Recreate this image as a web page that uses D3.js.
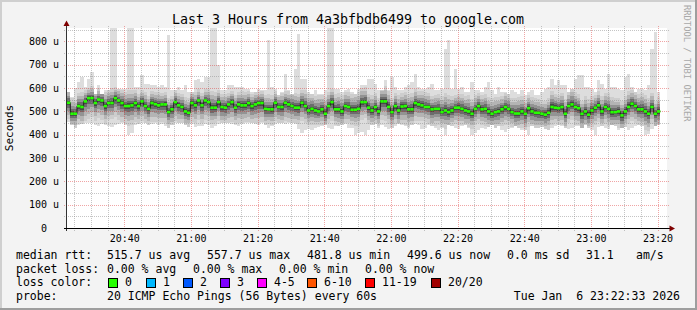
<!DOCTYPE html>
<html>
<head>
<meta charset="utf-8">
<script src="https://cdn.jsdelivr.net/npm/d3@7"></script>
<style>
body { margin: 0; background: #f3f3f3; }
text { font-family: "DejaVu Sans Mono", monospace; white-space: pre; }
</style>
</head>
<body>
<script>
var width = 697;
var height = 310;

// median rtt per minute, in microseconds
var median = [537, 490, 490, 523, 519, 543, 557, 557, 536, 551,
  547, 523, 536, 536, 557, 547, 536, 523, 523, 526,
  536, 523, 543, 523, 511, 536, 531, 526, 530, 530,
  497, 509, 540, 526, 519, 500, 494, 536, 526, 547,
  526, 547, 540, 516, 516, 540, 519, 516, 530, 540,
  516, 530, 526, 526, 536, 523, 530, 536, 536, 511,
  509, 509, 537, 519, 519, 537, 530, 523, 516, 516,
  537, 523, 504, 511, 504, 500, 509, 490, 523, 540,
  509, 509, 500, 523, 519, 507, 507, 511, 540, 540,
  516, 504, 519, 500, 543, 543, 519, 497, 523, 504,
  521, 523, 509, 509, 536, 530, 526, 519, 519, 509,
  511, 511, 497, 504, 497, 504, 516, 516, 511, 504,
  500, 490, 511, 523, 509, 511, 500, 490, 497, 500,
  509, 519, 511, 497, 491, 491, 500, 490, 514, 500,
  494, 494, 490, 486, 494, 519, 516, 514, 519, 490,
  523, 530, 519, 514, 490, 500, 486, 504, 516, 526,
  500, 519, 511, 497, 497, 500, 483, 500, 519, 533,
  523, 509, 509, 500, 490, 519, 490, 500];

// slowest ping per minute (top of the smoke)
var maxPing = [583, 561, 600, 626, 647, 604, 640, 669, 576, 611,
  576, 590, 590, 855, 855, 597, 597, 597, 855, 855,
  604, 604, 654, 619, 619, 611, 611, 604, 611, 604,
  826, 590, 590, 604, 590, 611, 583, 583, 633, 640,
  626, 647, 647, 855, 855, 697, 590, 590, 611, 611,
  604, 604, 604, 597, 597, 583, 583, 597, 590, 590,
  804, 604, 597, 569, 583, 661, 590, 576, 683, 833,
  640, 640, 583, 576, 590, 576, 576, 590, 855, 855,
  597, 597, 583, 590, 597, 583, 576, 597, 611, 611,
  640, 640, 619, 590, 590, 633, 590, 647, 604, 590,
  590, 604, 611, 626, 661, 604, 597, 597, 604, 619,
  590, 590, 597, 769, 804, 597, 683, 597, 604, 583,
  583, 626, 590, 590, 583, 604, 626, 590, 576, 604,
  583, 583, 576, 590, 583, 576, 590, 569, 583, 590,
  569, 569, 583, 597, 604, 640, 611, 633, 611, 611,
  583, 597, 640, 654, 654, 604, 604, 597, 583, 633,
  619, 597, 661, 604, 604, 597, 590, 647, 661, 604,
  583, 597, 597, 590, 611, 769, 840, 583];

// fastest ping per minute (bottom of the smoke)
var minPing = [455, 440, 430, 440, 445, 448, 452, 450, 440, 435,
  445, 442, 438, 432, 440, 445, 450, 440, 398, 405,
  440, 445, 450, 448, 442, 445, 450, 440, 445, 438,
  430, 440, 448, 452, 450, 440, 432, 445, 432, 438,
  438, 445, 442, 430, 436, 445, 450, 452, 448, 445,
  440, 436, 445, 450, 448, 452, 445, 440, 448, 440,
  430, 435, 445, 450, 448, 445, 450, 452, 445, 425,
  405, 420, 425, 422, 430, 433, 438, 440, 430, 425,
  438, 435, 440, 445, 430, 430, 400, 405, 410, 400,
  420, 440, 445, 430, 440, 432, 425, 430, 438, 445,
  440, 436, 430, 440, 445, 440, 425, 430, 440, 436,
  430, 420, 430, 400, 440, 435, 430, 425, 438, 440,
  430, 400, 405, 420, 428, 425, 432, 440, 430, 435,
  420, 410, 425, 430, 438, 430, 420, 420, 398, 436,
  428, 430, 432, 425, 420, 430, 435, 440, 436, 430,
  425, 430, 435, 438, 430, 440, 430, 420, 398, 432,
  438, 430, 425, 440, 436, 420, 428, 433, 420, 430,
  435, 440, 438, 400, 402, 425, 438, 440];

// spread of the middle pings above / below the median
var spreadUp = [30, 34, 30, 28, 32, 25, 22, 25, 28, 24,
  26, 30, 28, 32, 24, 26, 28, 30, 35, 32,
  28, 26, 24, 30, 28, 25, 26, 28, 24, 26,
  30, 28, 25, 26, 28, 30, 32, 26, 28, 25,
  26, 24, 28, 35, 34, 26, 28, 30, 25, 24,
  28, 26, 30, 28, 25, 26, 28, 24, 26, 30,
  32, 30, 26, 28, 30, 26, 28, 30, 32, 30,
  28, 34, 36, 32, 30, 34, 30, 36, 30, 28,
  32, 34, 36, 30, 32, 34, 35, 36, 30, 32,
  30, 32, 30, 28, 30, 32, 34, 30, 28, 32,
  28, 30, 32, 34, 30, 28, 30, 32, 30, 28,
  30, 32, 34, 38, 36, 30, 28, 30, 32, 30,
  34, 32, 30, 28, 30, 32, 30, 34, 32, 30,
  28, 30, 32, 30, 34, 36, 32, 30, 28, 30,
  32, 30, 28, 30, 32, 34, 30, 28, 30, 32,
  30, 34, 32, 30, 28, 32, 34, 30, 28, 30,
  32, 30, 34, 32, 30, 28, 30, 32, 34, 30,
  30, 32, 34, 36, 34, 30, 28, 30];
var spreadDown = [36, 30, 32, 38, 40, 42, 45, 40, 38, 40,
  42, 38, 36, 34, 40, 42, 40, 38, 44, 42,
  40, 38, 42, 36, 34, 40, 38, 36, 38, 40,
  34, 36, 40, 38, 36, 32, 30, 40, 38, 42,
  38, 42, 40, 36, 34, 40, 38, 36, 40, 42,
  36, 40, 38, 36, 40, 38, 40, 42, 40, 34,
  32, 34, 40, 36, 38, 40, 38, 36, 34, 36,
  40, 36, 32, 34, 32, 30, 34, 30, 36, 40,
  34, 36, 32, 36, 34, 32, 34, 36, 38, 34,
  36, 34, 38, 32, 40, 42, 36, 34, 38, 36,
  38, 40, 36, 34, 38, 36, 34, 32, 36, 38,
  36, 34, 32, 40, 36, 34, 36, 38, 34, 36,
  34, 32, 34, 36, 34, 38, 36, 32, 34, 36,
  36, 38, 34, 32, 36, 34, 36, 38, 40, 36,
  34, 36, 32, 34, 36, 38, 34, 36, 38, 34,
  36, 34, 38, 36, 40, 36, 34, 36, 38, 36,
  34, 36, 38, 36, 34, 36, 38, 34, 36, 38,
  36, 34, 36, 40, 38, 36, 34, 36];

var yTicks = [0, 100, 200, 300, 400, 500, 600, 700, 800];
var yTickLabels = ["  0  ", "100 u", "200 u", "300 u", "400 u", "500 u", "600 u", "700 u", "800 u"];

var lossColors = ["#26ff00", "#00b8ff", "#0059ff", "#7e00ff", "#ff00ff", "#ff5500", "#ff0000", "#a10000"];
var lossLabels = ["0", "1", "2", "3", "4-5", "6-10", "11-19", "20/20"];

var svgContainer = d3.select("body")
                     .append("svg")
                     .attr("width", width)
                     .attr("height", height);

// background + rrdtool style frame
svgContainer.append("rect").attr("width", width).attr("height", height).attr("fill", "#f3f3f3");
svgContainer.append("rect").attr("x", 0).attr("y", 0).attr("width", width).attr("height", 2).attr("fill", "#cfcfcf");
svgContainer.append("rect").attr("x", 0).attr("y", 0).attr("width", 2).attr("height", height).attr("fill", "#cfcfcf");
svgContainer.append("rect").attr("x", width - 2).attr("y", 0).attr("width", 2).attr("height", height).attr("fill", "#9e9e9e");
svgContainer.append("rect").attr("x", 0).attr("y", height - 2).attr("width", width).attr("height", 2).attr("fill", "#9e9e9e");

var t0 = new Date(2026, 0, 6, 20, 22, 50);
var t1 = new Date(2026, 0, 6, 23, 22, 50);
var x = d3.scaleTime().domain([t0, t1]).range([67, 667]);
var y = d3.scaleLinear().domain([0, 857]).range([228, 28]);

svgContainer.append("rect").attr("x", 67).attr("y", 28).attr("width", 600).attr("height", 200).attr("fill", "#ffffff");

var steps = median.map(function (d, i) {
    return {
        x0: x(new Date(t0.getTime() + i * 60000)),
        x1: x(new Date(t0.getTime() + (i + 1) * 60000)),
        med: d, max: maxPing[i], min: minPing[i], up: spreadUp[i], down: spreadDown[i]
    };
});

// smoke: outer band first, darker bands toward the median
var shades = [
    { k: 0, c: "#dddddd" },
    { k: 2.0, c: "#cdcdcd" },
    { k: 1.5, c: "#b4b4b4" },
    { k: 1.0, c: "#939393" },
    { k: 0.6, c: "#6c6c6c" },
    { k: 0.3, c: "#484848" }
];
var smoke = svgContainer.append("g").attr("id", "smoke");
shades.forEach(function (s) {
    smoke.selectAll(null)
        .data(steps)
        .enter()
        .append("rect")
        .attr("x", function (d) { return d.x0; })
        .attr("width", function (d) { return d.x1 - d.x0; })
        .attr("y", function (d) {
            var top = s.k === 0 ? d.max : Math.min(d.max, d.med + s.k * d.up);
            return y(top);
        })
        .attr("height", function (d) {
            var top = s.k === 0 ? d.max : Math.min(d.max, d.med + s.k * d.up);
            var bot = s.k === 0 ? d.min : Math.max(d.min, d.med - s.k * d.down);
            return y(bot) - y(top);
        })
        .attr("fill", s.c)
        .attr("shape-rendering", "crispEdges");
});

// grid (drawn over the smoke, semi transparent)
var grid = svgContainer.append("g").attr("id", "grid");
var minorMinutes = d3.timeMinute.every(5).range(t0, t1);
grid.selectAll(".vgrid")
    .data(minorMinutes)
    .enter()
    .append("line")
    .attr("x1", function (d) { return Math.round(x(d)) + 0.5; })
    .attr("x2", function (d) { return Math.round(x(d)) + 0.5; })
    .attr("y1", 26)
    .attr("y2", 231)
    .attr("stroke", function (d) {
        return d.getMinutes() % 20 === 0 ? "rgba(220,40,40,0.42)" : "rgba(140,140,140,0.5)";
    })
    .attr("stroke-dasharray", "1,1");

var hMinor = d3.range(50, 860, 50);
grid.selectAll(".hgrid")
    .data(hMinor)
    .enter()
    .append("line")
    .attr("x1", 64)
    .attr("x2", 669)
    .attr("y1", function (d) { return Math.round(y(d)) + 0.5; })
    .attr("y2", function (d) { return Math.round(y(d)) + 0.5; })
    .attr("stroke", function (d) {
        return d % 100 === 0 ? "rgba(220,40,40,0.42)" : "rgba(140,140,140,0.5)";
    })
    .attr("stroke-dasharray", "1,1");

// median: dark step line, then loss-colored segments
var stepPts = steps.map(function (d) { return [d.x0, y(d.med)]; });
stepPts.push([steps[steps.length - 1].x1, y(median[median.length - 1])]);
svgContainer.append("path")
    .attr("d", d3.line().curve(d3.curveStepAfter)(stepPts))
    .attr("fill", "none")
    .attr("stroke", "#202020")
    .attr("stroke-width", 1);

svgContainer.selectAll(".med")
    .data(steps)
    .enter()
    .append("rect")
    .attr("class", "med")
    .attr("x", function (d) { return d.x0; })
    .attr("width", function (d) { return d.x1 - d.x0; })
    .attr("y", function (d) { return y(d.med) - 1.2; })
    .attr("height", 2.6)
    .attr("fill", lossColors[0]);

// axes
svgContainer.append("line").attr("x1", 66.5).attr("x2", 66.5).attr("y1", 231).attr("y2", 24)
    .attr("stroke", "#333");
svgContainer.append("line").attr("x1", 64).attr("x2", 670).attr("y1", 228.5).attr("y2", 228.5)
    .attr("stroke", "#000");
svgContainer.append("path").attr("d", "M66.5,20.5L63.5,26L69.5,26Z").attr("fill", "#7f0000");
svgContainer.append("path").attr("d", "M675,228.5L669.5,225.5L669.5,231.5Z").attr("fill", "#7f0000");

// y labels
svgContainer.selectAll(".ylab")
    .data(yTicks)
    .enter()
    .append("text")
    .attr("class", "ylab")
    .attr("x", 59)
    .attr("y", function (d) { return y(d) + 3.6; })
    .attr("text-anchor", "end")
    .attr("font-size", "10px")
    .text(function (d, i) { return yTickLabels[i]; });

// x labels
var majorTimes = d3.timeMinute.every(20).range(t0, t1);
svgContainer.selectAll(".xlab")
    .data(majorTimes)
    .enter()
    .append("text")
    .attr("class", "xlab")
    .attr("x", function (d) { return x(d) + 0.5; })
    .attr("y", 242)
    .attr("text-anchor", "middle")
    .attr("font-size", "10px")
    .text(d3.timeFormat("%H:%M"));

// title and side texts
svgContainer.append("text")
    .attr("x", 348).attr("y", 24)
    .attr("text-anchor", "middle")
    .attr("font-size", "13.3px")
    .text("Last 3 Hours from 4a3bfbdb6499 to google.com");

svgContainer.append("text")
    .attr("transform", "translate(13," + 128 + ") rotate(-90)")
    .attr("text-anchor", "middle")
    .attr("font-size", "11px")
    .text("Seconds");

svgContainer.append("text")
    .attr("transform", "translate(684,5) rotate(90)")
    .attr("font-size", "8.8px")
    .attr("fill", "#a8a8a8")
    .text("RRDTOOL / TOBI OETIKER");

// legend
var legend = svgContainer.append("g").attr("font-size", "11.5px");
function put(txt, px, py, anchor) {
    legend.append("text").attr("x", px).attr("y", py)
        .attr("text-anchor", anchor || "start").text(txt);
}
put("median rtt:", 16, 258.5);
put("515.7 us avg", 107, 258.5);
put("557.7 us max", 207, 258.5);
put("481.8 us min", 307, 258.5);
put("499.6 us now", 407, 258.5);
put("0.0 ms sd", 507, 258.5);
put("31.1", 586, 258.5);
put("am/s", 636, 258.5);

put("packet loss:", 16, 272.5);
put("0.00 % avg", 107, 272.5);
put("0.00 % max", 193, 272.5);
put("0.00 % min", 279, 272.5);
put("0.00 % now", 365, 272.5);

put("loss color:", 16, 286.3);
var boxX = [108, 146, 183, 220, 257, 307, 365, 431];
lossLabels.forEach(function (l, i) {
    legend.append("rect").attr("x", boxX[i] + 0.5).attr("y", 278.5)
        .attr("width", 9).attr("height", 9)
        .attr("fill", lossColors[i]).attr("stroke", "#000").attr("stroke-width", 1);
    put(l, boxX[i] + 17, 286.3);
});

put("probe:", 16, 300);
put("20 ICMP Echo Pings (56 Bytes) every 60s", 107, 300);
put("Tue Jan  6 23:22:33 2026", 680, 300, "end");
</script>
</body>
</html>
